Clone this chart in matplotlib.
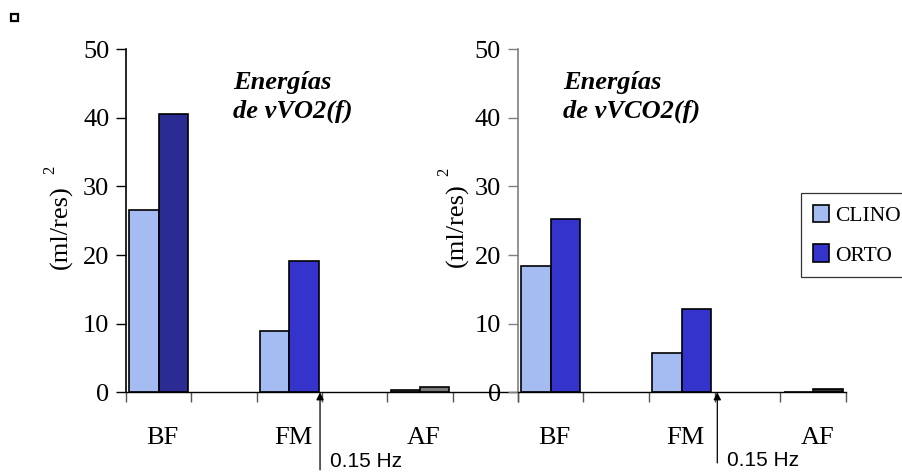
import matplotlib
matplotlib.use('Agg')
import matplotlib.pyplot as plt
from matplotlib.patches import Rectangle

# Energias de vVO2(f) y vVCO2(f), posicion CLINO vs ORTO
categories = ['BF', 'FM', 'AF']
vo2_clino = [26.6, 9.0, 0.4]
vo2_orto = [40.5, 19.2, 0.7]
vco2_clino = [18.4, 5.8, 0.0]
vco2_orto = [25.2, 12.2, 0.5]
series_names = ['CLINO', 'ORTO']
y_ticks = [0, 10, 20, 30, 40, 50]
marker_text = '0.15 Hz'

# colours per bar (the original sheet has individually coloured points)
vo2_clino_colors = ['#a4bcf2', '#a4bcf2', '#6e6e6e']
vo2_orto_colors = ['#2b2b94', '#3434cc', '#7a7a7a']
vco2_clino_colors = ['#a4bcf2', '#a4bcf2', '#a4bcf2']
vco2_orto_colors = ['#3434cc', '#3434cc', '#333333']
legend_colors = ['#a4bcf2', '#3434cc']

serif = 'Liberation Serif'
plt.rcParams['font.family'] = serif
fs = 19

W, H = 903, 473
fig = plt.figure(figsize=(W / 100, H / 100), dpi=100)

def px_axes(x0, x1, ytop, ybot):
    return fig.add_axes([x0 / W, 1 - ybot / H, (x1 - x0) / W, (ybot - ytop) / H])

axL = px_axes(126, 518, 49.3, 392.3)
axR = px_axes(517.7, 846, 49.3, 392.3)

bw = 0.225
xpos = list(range(len(categories)))

def draw(ax, clino, orto, c_cols, o_cols, xmax, spine_col):
    ax.bar([x - bw / 2 for x in xpos], clino, bw, color=c_cols,
           edgecolor='black', linewidth=1.2, label=series_names[0])
    ax.bar([x + bw / 2 for x in xpos], orto, bw, color=o_cols,
           edgecolor='black', linewidth=1.2, label=series_names[1])
    ax.set_xlim(-0.25, xmax)
    ax.set_ylim(0, 50)
    ax.set_yticks(y_ticks)
    ax.tick_params(axis='y', labelsize=fs, length=7, width=1, pad=5, color=spine_col)
    ax.set_xticks([x + 0.03 for x in xpos])
    ax.set_xticklabels(categories, fontsize=fs)
    ax.tick_params(axis='x', length=0, pad=25)
    bounds = [-0.25 + 0.5 * i for i in range(int(round((xmax + 0.25) / 0.5)) + 1)]
    ax.set_xticks(bounds, minor=True)
    ax.tick_params(axis='x', which='minor', length=7, width=1, color='#555555')
    for s in ['top', 'right']:
        ax.spines[s].set_visible(False)
    ax.spines['left'].set_color(spine_col)
    ax.spines['left'].set_linewidth(1.2)
    ax.spines['bottom'].set_linewidth(1.0)
    ax.patch.set_alpha(0)

draw(axL, vo2_clino, vo2_orto, vo2_clino_colors, vo2_orto_colors, 2.75, 'black')
draw(axR, vco2_clino, vco2_orto, vco2_clino_colors, vco2_orto_colors, 2.25, '#808080')

# titles inside the plots (figure pixel positions, top origin)
for x0, txt in [(232.7, 'Energías\nde vVO2(f)'), (563.3, 'Energías\nde vVCO2(f)')]:
    fig.text(x0 / W, 1 - 71 / H, txt, fontsize=fs, fontweight='bold',
             fontstyle='italic', va='top', ha='left', linespacing=1.3)

# y labels with separate superscript
for xc, yc, x2, y2 in [(61, 227, 50, 170), (457, 225, 444, 172)]:
    fig.text(xc / W, 1 - yc / H, '(ml/res)', rotation=90, fontsize=fs,
             ha='center', va='center')
    fig.text(x2 / W, 1 - y2 / H, '2', rotation=90, fontsize=12,
             ha='center', va='center')

# 0.15 Hz markers
for ax, xv, tail, tx, ty in [(axL, 1.235, -11.3, 330, 467), (axR, 1.27, -10.3, 727, 466)]:
    ax.annotate('', xy=(xv, 0), xytext=(xv, tail), annotation_clip=False,
                arrowprops=dict(arrowstyle='-|>', color='black', lw=0.9,
                                mutation_scale=11, shrinkA=0, shrinkB=0))
    fig.text(tx / W, 1 - ty / H, marker_text, fontsize=15, family='Liberation Sans',
             ha='left', va='baseline')

# legend
handles, labels = axR.get_legend_handles_labels()
leg = fig.legend(handles, labels, loc='upper left',
                 bbox_to_anchor=(800.7 / W, 1 - 193.3 / H), fontsize=15.5,
                 frameon=True, fancybox=False, edgecolor='black',
                 handlelength=0.75, handleheight=0.85, handletextpad=0.3,
                 labelspacing=0.85, borderpad=0.55, borderaxespad=0)
leg.get_frame().set_linewidth(0.9)
for h, c in zip(leg.legend_handles, legend_colors):
    h.set_facecolor(c)

# small marker in top-left corner
fig.patches.append(Rectangle((11 / W, 1 - 21 / H), 7 / W, 7 / H, transform=fig.transFigure,
                             fill=False, edgecolor='black', linewidth=1.6))

fig.savefig('out.png', dpi=100)
